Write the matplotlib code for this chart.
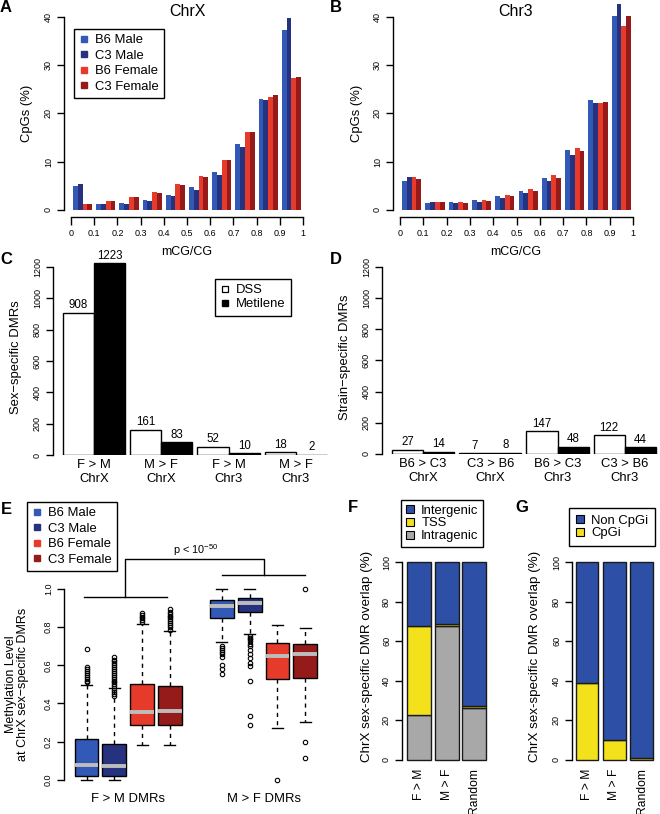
import numpy as np
import matplotlib
matplotlib.use('Agg')
import matplotlib.pyplot as plt
from matplotlib.lines import Line2D

plt.rcParams['font.family'] = ['Liberation Sans', 'DejaVu Sans']
plt.rcParams['mathtext.fontset'] = 'custom'
plt.rcParams['mathtext.rm'] = 'Liberation Sans'
plt.rcParams['axes.linewidth'] = 1.0

# ---------------- data ----------------
samples = ['B6 Male', 'C3 Male', 'B6 Female', 'C3 Female']
sample_colors = ['#3159B5', '#27327F', '#E63A2A', '#951B1B']

mcg_bins = [0.0, 0.1, 0.2, 0.3, 0.4, 0.5, 0.6, 0.7, 0.8, 0.9]
mcg_ticks = [0, 0.1, 0.2, 0.3, 0.4, 0.5, 0.6, 0.7, 0.8, 0.9, 1]
mcg_ticklabels = ['0', '0.1', '0.2', '0.3', '0.4', '0.5', '0.6', '0.7', '0.8', '0.9', '1']

chrx_b6_male = [5.0, 1.2, 1.4, 2.0, 3.2, 4.7, 7.8, 13.7, 23.1, 37.4]
chrx_c3_male = [5.3, 1.2, 1.2, 1.8, 2.9, 4.2, 7.2, 13.0, 22.8, 39.8]
chrx_b6_female = [1.2, 1.9, 2.7, 3.7, 5.3, 7.0, 10.4, 16.2, 23.4, 27.4]
chrx_c3_female = [1.2, 1.8, 2.6, 3.6, 5.2, 6.8, 10.4, 16.2, 23.8, 27.6]

chr3_b6_male = [6.1, 1.5, 1.6, 2.0, 2.8, 3.9, 6.7, 12.4, 22.7, 40.1]
chr3_c3_male = [6.9, 1.6, 1.4, 1.7, 2.5, 3.6, 6.1, 11.5, 22.1, 42.6]
chr3_b6_female = [6.8, 1.6, 1.6, 2.1, 3.1, 4.3, 7.2, 12.9, 22.2, 38.2]
chr3_c3_female = [6.4, 1.7, 1.5, 1.9, 2.8, 4.0, 6.7, 12.3, 22.4, 40.3]

sex_groups = ['F > M\nChrX', 'M > F\nChrX', 'F > M\nChr3', 'M > F\nChr3']
sex_dss = [908, 161, 52, 18]
sex_metilene = [1223, 83, 10, 2]

strain_groups = ['B6 > C3\nChrX', 'C3 > B6\nChrX', 'B6 > C3\nChr3', 'C3 > B6\nChr3']
strain_dss = [27, 7, 147, 122]
strain_metilene = [14, 8, 48, 44]

# boxplot stats: (whislo, q1, med, q3, whishi, fliers)
fm_stats = [
    (0.0, 0.023, 0.079, 0.215, 0.497, [0.51, 0.52, 0.53, 0.54, 0.55, 0.56, 0.57, 0.58, 0.59, 0.685]),
    (0.0, 0.023, 0.074, 0.187, 0.48, [0.44, 0.45, 0.46, 0.47, 0.49, 0.50, 0.51, 0.52, 0.53, 0.54,
                                     0.55, 0.56, 0.57, 0.58, 0.59, 0.60, 0.61, 0.62, 0.63, 0.645]),
    (0.184, 0.285, 0.354, 0.503, 0.818, [0.825, 0.835, 0.845, 0.855, 0.865, 0.875]),
    (0.184, 0.285, 0.359, 0.49, 0.779, [0.785, 0.80, 0.81, 0.82, 0.83, 0.84, 0.85, 0.86, 0.87, 0.88, 0.895]),
]
mf_stats = [
    (0.723, 0.849, 0.911, 0.942, 1.0, [0.70, 0.69, 0.68, 0.67, 0.66, 0.645, 0.60, 0.58, 0.555]),
    (0.765, 0.876, 0.925, 0.953, 1.0, [0.755, 0.745, 0.735, 0.725, 0.71, 0.70, 0.68, 0.66, 0.64,
                                       0.61, 0.595, 0.52, 0.335, 0.29]),
    (0.27, 0.529, 0.651, 0.718, 0.809, [0.0]),
    (0.303, 0.534, 0.658, 0.713, 0.797, [1.0, 0.2, 0.117]),
]
box_groups = ['F > M DMRs', 'M > F DMRs']

overlap_cats = ['F > M', 'M > F', 'Random']
feat_intragenic = [22.8, 67.8, 26.5]
feat_tss = [44.7, 0.8, 1.0]
feat_intergenic = [32.5, 31.4, 72.5]
feat_colors = {'Intergenic': '#2D4FA6', 'TSS': '#F2E11B', 'Intragenic': '#A8A8A8'}

cpg_cpgi = [38.7, 9.9, 1.2]
cpg_non = [61.3, 90.1, 98.8]

# ---------------- layout helpers ----------------
W, H = 660, 814
fig = plt.figure(figsize=(W / 100, H / 100), dpi=100)

FS = 9.4      # main label size
TICK = 6.5    # tick label size


def px_axes(l, t, r, b):
    return fig.add_axes([l / W, 1 - b / H, (r - l) / W, (b - t) / H])


def fx(x):
    return x / W


def fy(y):
    return 1 - y / H


PT = 0.72  # points per pixel


def style_left(ax, lo, hi, ticks, labels=None, offset=0):
    for s in ['top', 'right']:
        ax.spines[s].set_visible(False)
    ax.spines['left'].set_bounds(lo, hi)
    if offset:
        ax.spines['left'].set_position(('outward', offset * PT))
    ax.set_yticks(ticks)
    if labels is not None:
        ax.set_yticklabels(labels)
    ax.tick_params(axis='y', labelrotation=90, labelsize=TICK, length=7 * PT, width=1, pad=4 * PT)
    for t in ax.get_yticklabels():
        t.set_va('center')


def panel_letter(x, y, s):
    fig.text(fx(x), fy(y), s, fontsize=12, fontweight='bold', ha='center', va='center')


def make_legend(ax, handles, labels, x, y, spacing=0.3, pad=0.45):
    leg = ax.legend(handles, labels, loc='upper left', bbox_to_anchor=(fx(x), fy(y)),
                    bbox_transform=fig.transFigure, fancybox=False, edgecolor='black',
                    framealpha=1, fontsize=FS, borderpad=pad, handlelength=0.7,
                    handletextpad=0.5, labelspacing=spacing, borderaxespad=0)
    leg.get_frame().set_linewidth(1)
    return leg


# ---------------- A / B ----------------
def mcg_panel(ax, series, title, cx):
    w = 0.0205
    for k, vals in enumerate(series):
        ax.bar(np.array(mcg_bins) + 0.009 + k * w, vals, width=w, align='edge',
               color=sample_colors[k], edgecolor='none', clip_on=False)
    ax.set_xlim(0, 1)
    ax.set_ylim(0, 43)
    style_left(ax, 0, 40, [0, 10, 20, 30, 40], offset=7)
    ax.spines['bottom'].set_position(('outward', 7 * PT))
    ax.spines['bottom'].set_bounds(0, 1)
    ax.set_xticks(mcg_ticks)
    ax.set_xticklabels(mcg_ticklabels)
    ax.tick_params(axis='x', labelsize=TICK, length=8 * PT, width=1, pad=4 * PT)
    fig.text(fx(cx), fy(12), title, fontsize=11.5, ha='center', va='center')
    fig.text(fx(cx), fy(252), 'mCG/CG', fontsize=9, ha='center', va='center')


axA = px_axes(71, 2.5, 303, 210)
mcg_panel(axA, [chrx_b6_male, chrx_c3_male, chrx_b6_female, chrx_c3_female], 'ChrX', 187)
fig.text(fx(27), fy(113), 'CpGs (%)', fontsize=FS, rotation=90, ha='center', va='center')

axB = px_axes(400, 2.5, 633, 210)
mcg_panel(axB, [chr3_b6_male, chr3_c3_male, chr3_b6_female, chr3_c3_female], 'Chr3', 516)
fig.text(fx(357), fy(113), 'CpGs (%)', fontsize=FS, rotation=90, ha='center', va='center')

sample_handles = [Line2D([], [], marker='s', ls='none', color=c, markersize=4.5) for c in sample_colors]
make_legend(axA, sample_handles, samples, 74, 29, spacing=0.25, pad=0.4)


# ---------------- C / D ----------------
def dmr_panel(ax, groups, dss, met, ylabel, yx):
    step = 2.16
    pos = np.arange(len(groups)) * step
    b1 = ax.bar(pos + 0.5, dss, width=1, color='white', edgecolor='black', lw=1)
    b2 = ax.bar(pos + 1.5, met, width=1, color='black', edgecolor='black', lw=1)
    ax.bar_label(b1, fontsize=8.3, padding=1)
    ax.bar_label(b2, fontsize=8.3, padding=1)
    ax.set_xlim(-10 / 31, 3 * step + 2 + 0.1)
    ax.set_ylim(0, 1300)
    style_left(ax, 0, 1200, [0, 200, 400, 600, 800, 1000, 1200])
    ax.spines['bottom'].set_visible(False)
    ax.set_xticks(pos + 1)
    ax.set_xticklabels(groups)
    ax.tick_params(axis='x', length=0, labelsize=FS, pad=3)
    for t in ax.get_xticklabels():
        t.set_linespacing(1.15)
    fig.text(fx(yx), fy(357), ylabel, fontsize=FS, rotation=90, ha='center', va='center')


axC = px_axes(53, 251.3, 330, 455)
dmr_panel(axC, sex_groups, sex_dss, sex_metilene, 'Sex\u2212specific DMRs', 16)
make_legend(axC, [Line2D([], [], marker='s', ls='none', mfc='white', mec='black', mew=0.9, markersize=5),
                  Line2D([], [], marker='s', ls='none', color='black', markersize=5)],
            ['DSS', 'Metilene'], 215, 279, spacing=0.15, pad=0.4)

axD = px_axes(382, 251.3, 659, 454)
dmr_panel(axD, strain_groups, strain_dss, strain_metilene, 'Strain\u2212specific DMRs', 345)

# ---------------- E ----------------
axE = px_axes(64, 541, 322, 785.7)
positions = [1, 2, 3, 4, 5.87, 6.87, 7.87, 8.87]
stats = []
for s in fm_stats + mf_stats:
    stats.append(dict(whislo=s[0], q1=s[1], med=s[2], q3=s[3], whishi=s[4], fliers=s[5]))
bp = axE.bxp(stats, positions=positions, widths=0.85, capwidths=0.4, patch_artist=True,
             boxprops=dict(edgecolor='black', lw=1),
             medianprops=dict(color='#BDBDBD', lw=2.8, solid_capstyle='butt'),
             whiskerprops=dict(color='black', lw=1, ls=(0, (3, 3))),
             capprops=dict(color='black', lw=1),
             flierprops=dict(marker='o', mfc='none', mec='black', markersize=3.2, mew=0.8))
for patch, col in zip(bp['boxes'], sample_colors * 2):
    patch.set_facecolor(col)
axE.set_xlim(1 - 22.5 / 27.8, 1 + (322 - 86.5) / 27.8)
axE.set_ylim(-0.03, 1.25)
style_left(axE, 0, 1, [0, 0.2, 0.4, 0.6, 0.8, 1.0], ['0.0', '0.2', '0.4', '0.6', '0.8', '1.0'])
axE.spines['bottom'].set_visible(False)
g1 = np.mean(positions[:4])
g2 = np.mean(positions[4:])
axE.set_xticks([g1, g2])
axE.set_xticklabels(box_groups)
axE.tick_params(axis='x', length=0, labelsize=FS, pad=5)
# significance bracket
axE.plot([positions[0] - 0.1, positions[3] - 0.1], [0.958, 0.958], color='black', lw=1, clip_on=False)
axE.plot([positions[4], positions[7]], [1.073, 1.073], color='black', lw=1, clip_on=False)
axE.plot([g1 - 0.1, g1 - 0.1, g2, g2], [0.958, 1.157, 1.157, 1.073], color='black', lw=1, clip_on=False)
axE.text((g1 + g2) / 2, 1.2, r'p < 10$^{-50}$', fontsize=7.8, ha='center', va='center')
fig.text(fx(17), fy(684), 'Methylation Level\nat ChrX sex\u2212specific DMRs', fontsize=9,
         rotation=90, ha='center', va='center', multialignment='center', linespacing=1.0)
make_legend(axE, sample_handles, samples, 27, 502, spacing=0.25, pad=0.4)


# ---------------- F / G ----------------
def overlap_axes(ax, ylabel, yx):
    style_left(ax, 0, 100, [0, 20, 40, 60, 80, 100])
    ax.set_ylim(0, 100)
    ax.spines['bottom'].set_visible(False)
    ax.set_xticks(range(len(overlap_cats)))
    ax.set_xticklabels(overlap_cats, rotation=90, va='top', ha='center')
    ax.tick_params(axis='x', length=0, labelsize=8.7, pad=6)
    fig.text(fx(yx), fy(656), ylabel, fontsize=9.6, rotation=90, ha='center', va='center')


def sq(col):
    return Line2D([], [], marker='s', ls='none', mfc=col, mec='black', mew=0.8, markersize=5.5)


axF = px_axes(402, 562, 490, 760)
x3 = np.arange(len(overlap_cats))
wF = 24 / 27.5
bar_kw = dict(edgecolor='#1a1a1a', lw=1, clip_on=False)
axF.bar(x3, feat_intragenic, width=wF, color=feat_colors['Intragenic'], **bar_kw)
axF.bar(x3, feat_tss, width=wF, bottom=feat_intragenic, color=feat_colors['TSS'], **bar_kw)
axF.bar(x3, feat_intergenic, width=wF, bottom=np.add(feat_intragenic, feat_tss),
        color=feat_colors['Intergenic'], **bar_kw)
axF.set_xlim(-0.618, 2.58)
overlap_axes(axF, 'ChrX sex-specific DMR overlap (%)', 367)
make_legend(axF, [sq(feat_colors['Intergenic']), sq(feat_colors['TSS']), sq(feat_colors['Intragenic'])],
            ['Intergenic', 'TSS', 'Intragenic'], 401, 500, spacing=0.05, pad=0.35)

axG = px_axes(572, 562, 658, 760)
wG = 22.5 / 27.25
axG.bar(x3, cpg_cpgi, width=wG, color=feat_colors['TSS'], **bar_kw)
axG.bar(x3, cpg_non, width=wG, bottom=cpg_cpgi, color=feat_colors['Intergenic'], **bar_kw)
axG.set_xlim(-0.55, 2.6)
overlap_axes(axG, 'ChrX sex-specific DMR overlap (%)', 535)
make_legend(axG, [sq(feat_colors['Intergenic']), sq(feat_colors['TSS'])],
            ['Non CpGi', 'CpGi'], 569, 508, spacing=0.05, pad=0.5)

# panel letters
panel_letter(6, 8, 'A')
panel_letter(336, 8, 'B')
panel_letter(6, 260, 'C')
panel_letter(336, 260, 'D')
panel_letter(6, 509, 'E')
panel_letter(353, 508, 'F')
panel_letter(522, 507, 'G')

fig.savefig('out.png', dpi=100)
